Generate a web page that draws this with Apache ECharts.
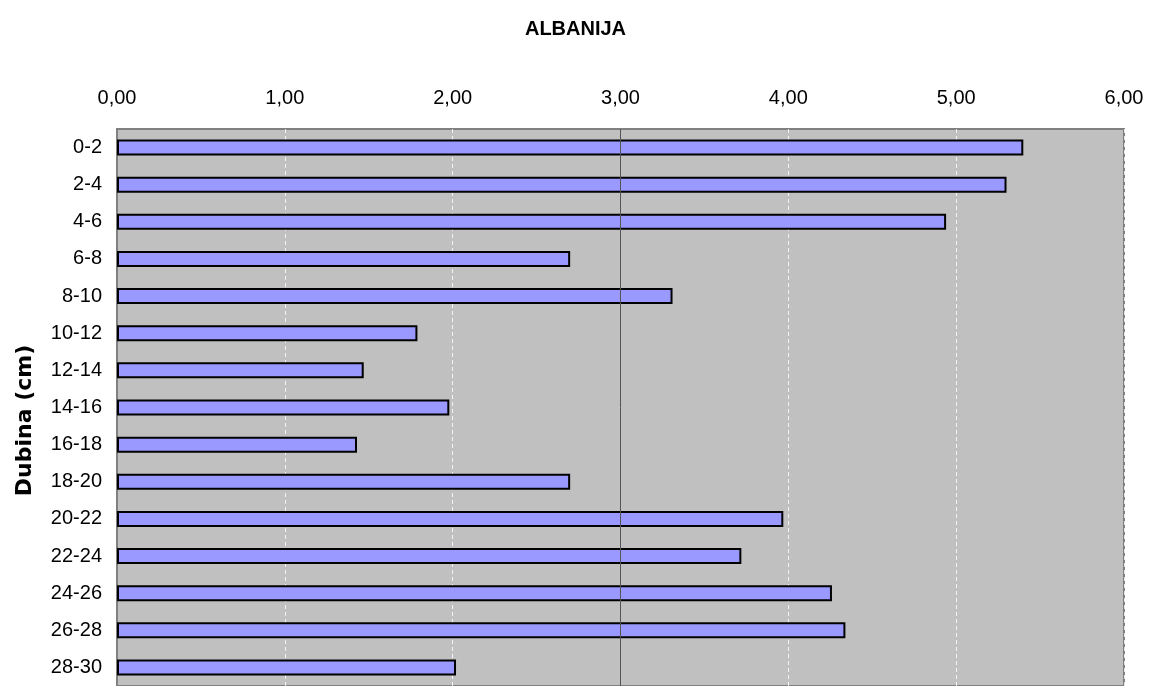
<!DOCTYPE html>
<html><head><meta charset="utf-8">
<script src="https://cdn.jsdelivr.net/npm/echarts@6/dist/echarts.min.js"></script>
<style>html,body{margin:0;padding:0;background:#fff}#c{width:1151px;height:686px}</style>
</head><body><div id="c"></div>
<script>
const categories = ["0-2","2-4","4-6","6-8","8-10","10-12","12-14","14-16","16-18","18-20","20-22","22-24","24-26","26-28","28-30"];
const values = [5.40,5.30,4.94,2.70,3.31,1.79,1.47,1.98,1.43,2.70,3.97,3.72,4.26,4.34,2.02];
const xTicks = [0,1,2,3,4,5,6];
const titleText = "ALBANIJA";
const yName = "Dubina (cm)";

const chart = echarts.init(document.getElementById('c'));
chart.setOption({
  animation:false,
  title:{text:titleText,left:'center',top:14,textStyle:{fontFamily:'Liberation Sans',fontSize:20,fontWeight:'bold',color:'#000'}},
  grid:{left:117,right:27,top:129,bottom:-4,show:true,backgroundColor:'#c0c0c0',borderColor:'#808080',borderWidth:2},
  xAxis:{type:'value',position:'top',min:xTicks[0],max:xTicks[xTicks.length-1],interval:1,
    axisLine:{show:false},axisTick:{show:false},
    axisLabel:{fontFamily:'Liberation Sans',fontSize:20,color:'#000',margin:21,formatter:v=>v.toFixed(2).replace('.',',')},
    splitLine:{show:true,lineStyle:{color:'#ffffff',type:[4,3],width:1,opacity:0.8}}},
  yAxis:{type:'category',data:categories,inverse:true,
    name:yName,nameLocation:'middle',nameGap:81,nameRotate:90,
    nameTextStyle:{fontFamily:'DejaVu Sans',fontSize:22,fontWeight:'bold',color:'#000',padding:[0,26,0,0]},
    axisLine:{show:true,lineStyle:{color:'#808080',width:1}},axisTick:{show:false},
    axisLabel:{fontFamily:'Liberation Sans',fontSize:20,color:'#000',margin:15}},
  series:[{type:'bar',data:values,barWidth:16,
    itemStyle:{color:'#9999ff',borderColor:'#000',borderWidth:2},
    markLine:{silent:true,symbol:'none',label:{show:false},lineStyle:{color:'#555',type:'solid',width:1},data:[{xAxis:3}]}}]
});
</script></body></html>
